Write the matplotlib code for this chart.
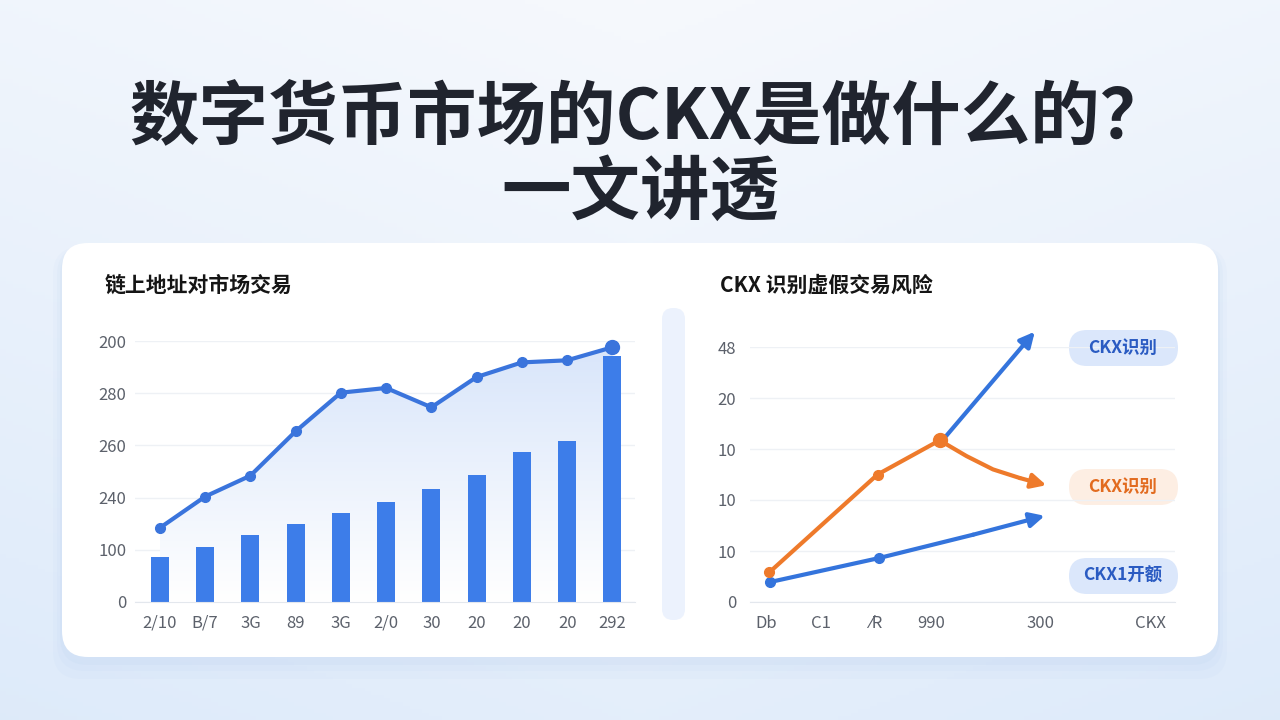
import numpy as np
import matplotlib
matplotlib.use('Agg')
import matplotlib.pyplot as plt
from matplotlib.patches import FancyBboxPatch, Polygon

plt.rcParams['font.family'] = ['Noto Sans CJK SC', 'DejaVu Sans']

# ---- data (in tick units) ----
title_1 = '数字货币市场的CKX是做什么的？'
title_2 = '一文讲透'

left_title = '链上地址对市场交易'
left_xlabels = ['2/10', 'B/7', '3G', '89', '3G', '2/0', '30', '20', '20', '20', '292']
left_ylabels = ['0', '100', '240', '260', '280', '200']
bar_vals = [0.86, 1.06, 1.29, 1.50, 1.70, 1.92, 2.17, 2.43, 2.88, 3.08, 4.72]
line_vals = [1.42, 2.02, 2.42, 3.27, 4.01, 4.10, 3.73, 4.31, 4.59, 4.63, 4.88]

right_title = 'CKX 识别虚假交易风险'
right_xticks = [0, 1, 2, 3, 5, 7]
right_xlabels = ['Db', 'C1', '⁄R', '990', '300', 'CKX']
right_ylabels = ['0', '10', '10', '10', '20', '48']
low_x = [0.07, 2.05, 3.77, 5.07]
low_y = [0.39, 0.86, 1.32, 1.69]
orange_x = [0.06, 2.03, 3.16, 3.65, 4.13, 4.62, 5.10]
orange_y = [0.58, 2.50, 3.17, 2.86, 2.60, 2.43, 2.29]
up_x = [3.25, 4.89]
up_y = [3.22, 5.30]
pill_labels = ['CKX识别', 'CKX识别', 'CKX1开额']

W, H = 1280, 720
fig = plt.figure(figsize=(12.8, 7.2), dpi=100)

# background in pixel coordinates
bg = fig.add_axes([0, 0, 1, 1])
bg.set_xlim(0, W)
bg.set_ylim(H, 0)
bg.axis('off')
yy, xx = np.mgrid[0:1:200j, 0:1:200j]
top = np.array([0.965, 0.975, 0.992])
bot = np.array([0.87, 0.92, 0.98])
edge = np.abs(xx - 0.5) * 0.5
t = np.clip(0.75 * yy + edge, 0, 1)[..., None]
bg.imshow(top * (1 - t) + bot * t, extent=(0, W, H, 0), aspect='auto', zorder=0)

# card shadow + card
for k, a in [(18, 0.05), (10, 0.06), (4, 0.07)]:
    bg.add_patch(FancyBboxPatch((62 - k / 2, 243 + 4), 1156 + k, 414 + k,
                                boxstyle='round,pad=0,rounding_size=28',
                                fc='#9dbbe8', ec='none', alpha=a, zorder=1))
bg.add_patch(FancyBboxPatch((62, 243), 1156, 414, boxstyle='round,pad=0,rounding_size=26',
                            fc='white', ec='none', zorder=2))
# divider pill
bg.add_patch(FancyBboxPatch((662, 308), 23, 312, boxstyle='round,pad=0,rounding_size=11',
                            fc='#ecf2fd', ec='none', zorder=3))

bg.text(650, 118, title_1, ha='center', va='center', fontsize=50, fontweight='black',
        color='#20242e', zorder=4)
bg.text(640, 194, title_2, ha='center', va='center', fontsize=50, fontweight='black',
        color='#20242e', zorder=4)
bg.text(105, 285, left_title, ha='left', va='center', fontsize=15, fontweight='bold',
        color='#151515', zorder=4)
bg.text(720, 285, right_title, ha='left', va='center', fontsize=15, fontweight='bold',
        color='#151515', zorder=4)


def px_axes(x0, y0, x1, y1):
    return fig.add_axes([x0 / W, 1 - y1 / H, (x1 - x0) / W, (y1 - y0) / H])


def style(ax, ylabels):
    ax.set_facecolor('none')
    ax.set_ylim(0, 5)
    ax.set_yticks(range(len(ylabels)))
    ax.set_yticklabels(ylabels)
    for s in ['top', 'right', 'left']:
        ax.spines[s].set_visible(False)
    ax.spines['bottom'].set_color('#e3e7ed')
    ax.grid(axis='y', color='#eef1f5', lw=1)
    ax.set_axisbelow(True)
    ax.tick_params(length=0, labelsize=12, colors='#5c616b')
    ax.tick_params(axis='x', pad=9)


# ---- left chart ----
ax1 = px_axes(135, 341, 635, 602)
style(ax1, left_ylabels)
ax1.tick_params(axis='y', pad=6)
xs = np.arange(len(bar_vals))
ax1.set_xlim(-0.55, 10.5)
ax1.set_xticks(xs)
ax1.set_xticklabels(left_xlabels)

poly = Polygon(list(zip(xs, line_vals)) + [(xs[-1], 0), (xs[0], 0)], closed=True,
               fc='none', ec='none')
ax1.add_patch(poly)
grad = np.linspace(1, 0, 100)[:, None]
cm = matplotlib.colors.LinearSegmentedColormap.from_list('g', ['#ffffff', '#d8e5fa'])
im = ax1.imshow(grad, extent=(xs[0], xs[-1], 0, 5), aspect='auto', cmap=cm, zorder=1,
                vmin=0, vmax=1)
im.set_clip_path(poly)

ax1.bar(xs, bar_vals, width=0.4, color='#3d7de9', zorder=2)
ax1.plot(xs, line_vals, color='#3a74dc', lw=3, marker='o', ms=7, zorder=3, clip_on=False)
ax1.plot(xs[-1], line_vals[-1], 'o', color='#3a74dc', ms=10, zorder=3, clip_on=False)

# ---- right chart ----
ax2 = px_axes(750, 347, 1175, 602)
style(ax2, right_ylabels)
ax2.tick_params(axis='y', pad=10)
ax2.set_xlim(-0.29, 7.44)
ax2.set_xticks(right_xticks)
ax2.set_xticklabels(right_xlabels)

blue = '#3474dc'
orange = '#ee7a2b'
arrow = dict(arrowstyle='-|>', lw=3, mutation_scale=22, shrinkA=0, shrinkB=0)

ax2.plot(low_x[:-1], low_y[:-1], color=blue, lw=3, zorder=3, solid_capstyle='round')
ax2.plot(low_x[:2], low_y[:2], 'o', color=blue, ms=7, zorder=3)
ax2.annotate('', xy=(low_x[-1], low_y[-1]), xytext=(low_x[-2], low_y[-2]),
             arrowprops=dict(arrow, color=blue), zorder=3, annotation_clip=False)

ax2.plot(orange_x[:-1], orange_y[:-1], color=orange, lw=3, zorder=3, solid_capstyle='round')
ax2.plot(orange_x[:2], orange_y[:2], 'o', color=orange, ms=7, zorder=3)
ax2.plot(orange_x[2], orange_y[2], 'o', color=orange, ms=10, zorder=4)
ax2.annotate('', xy=(orange_x[-1], orange_y[-1]), xytext=(orange_x[-2], orange_y[-2]),
             arrowprops=dict(arrow, color=orange), zorder=3, annotation_clip=False)

ax2.annotate('', xy=(up_x[1], up_y[1]), xytext=(up_x[0], up_y[0]),
             arrowprops=dict(arrow, color=blue), zorder=3, annotation_clip=False)

# pills
pill_style = [(348, '#dbe7fb', '#2a5bc2'), (487, '#fdeee3', '#e26b1f'),
              (576, '#dbe7fb', '#2a5bc2')]
for (py, fc, tc), lab in zip(pill_style, pill_labels):
    bg.add_patch(FancyBboxPatch((1069, py - 18), 109, 36,
                                boxstyle='round,pad=0,rounding_size=18',
                                fc=fc, ec='none', zorder=5))
    fig.text(1123 / W, 1 - py / H, lab, ha='center', va='center', fontsize=12.5,
             fontweight='bold', color=tc, zorder=6)

fig.savefig('out.png', dpi=100)
